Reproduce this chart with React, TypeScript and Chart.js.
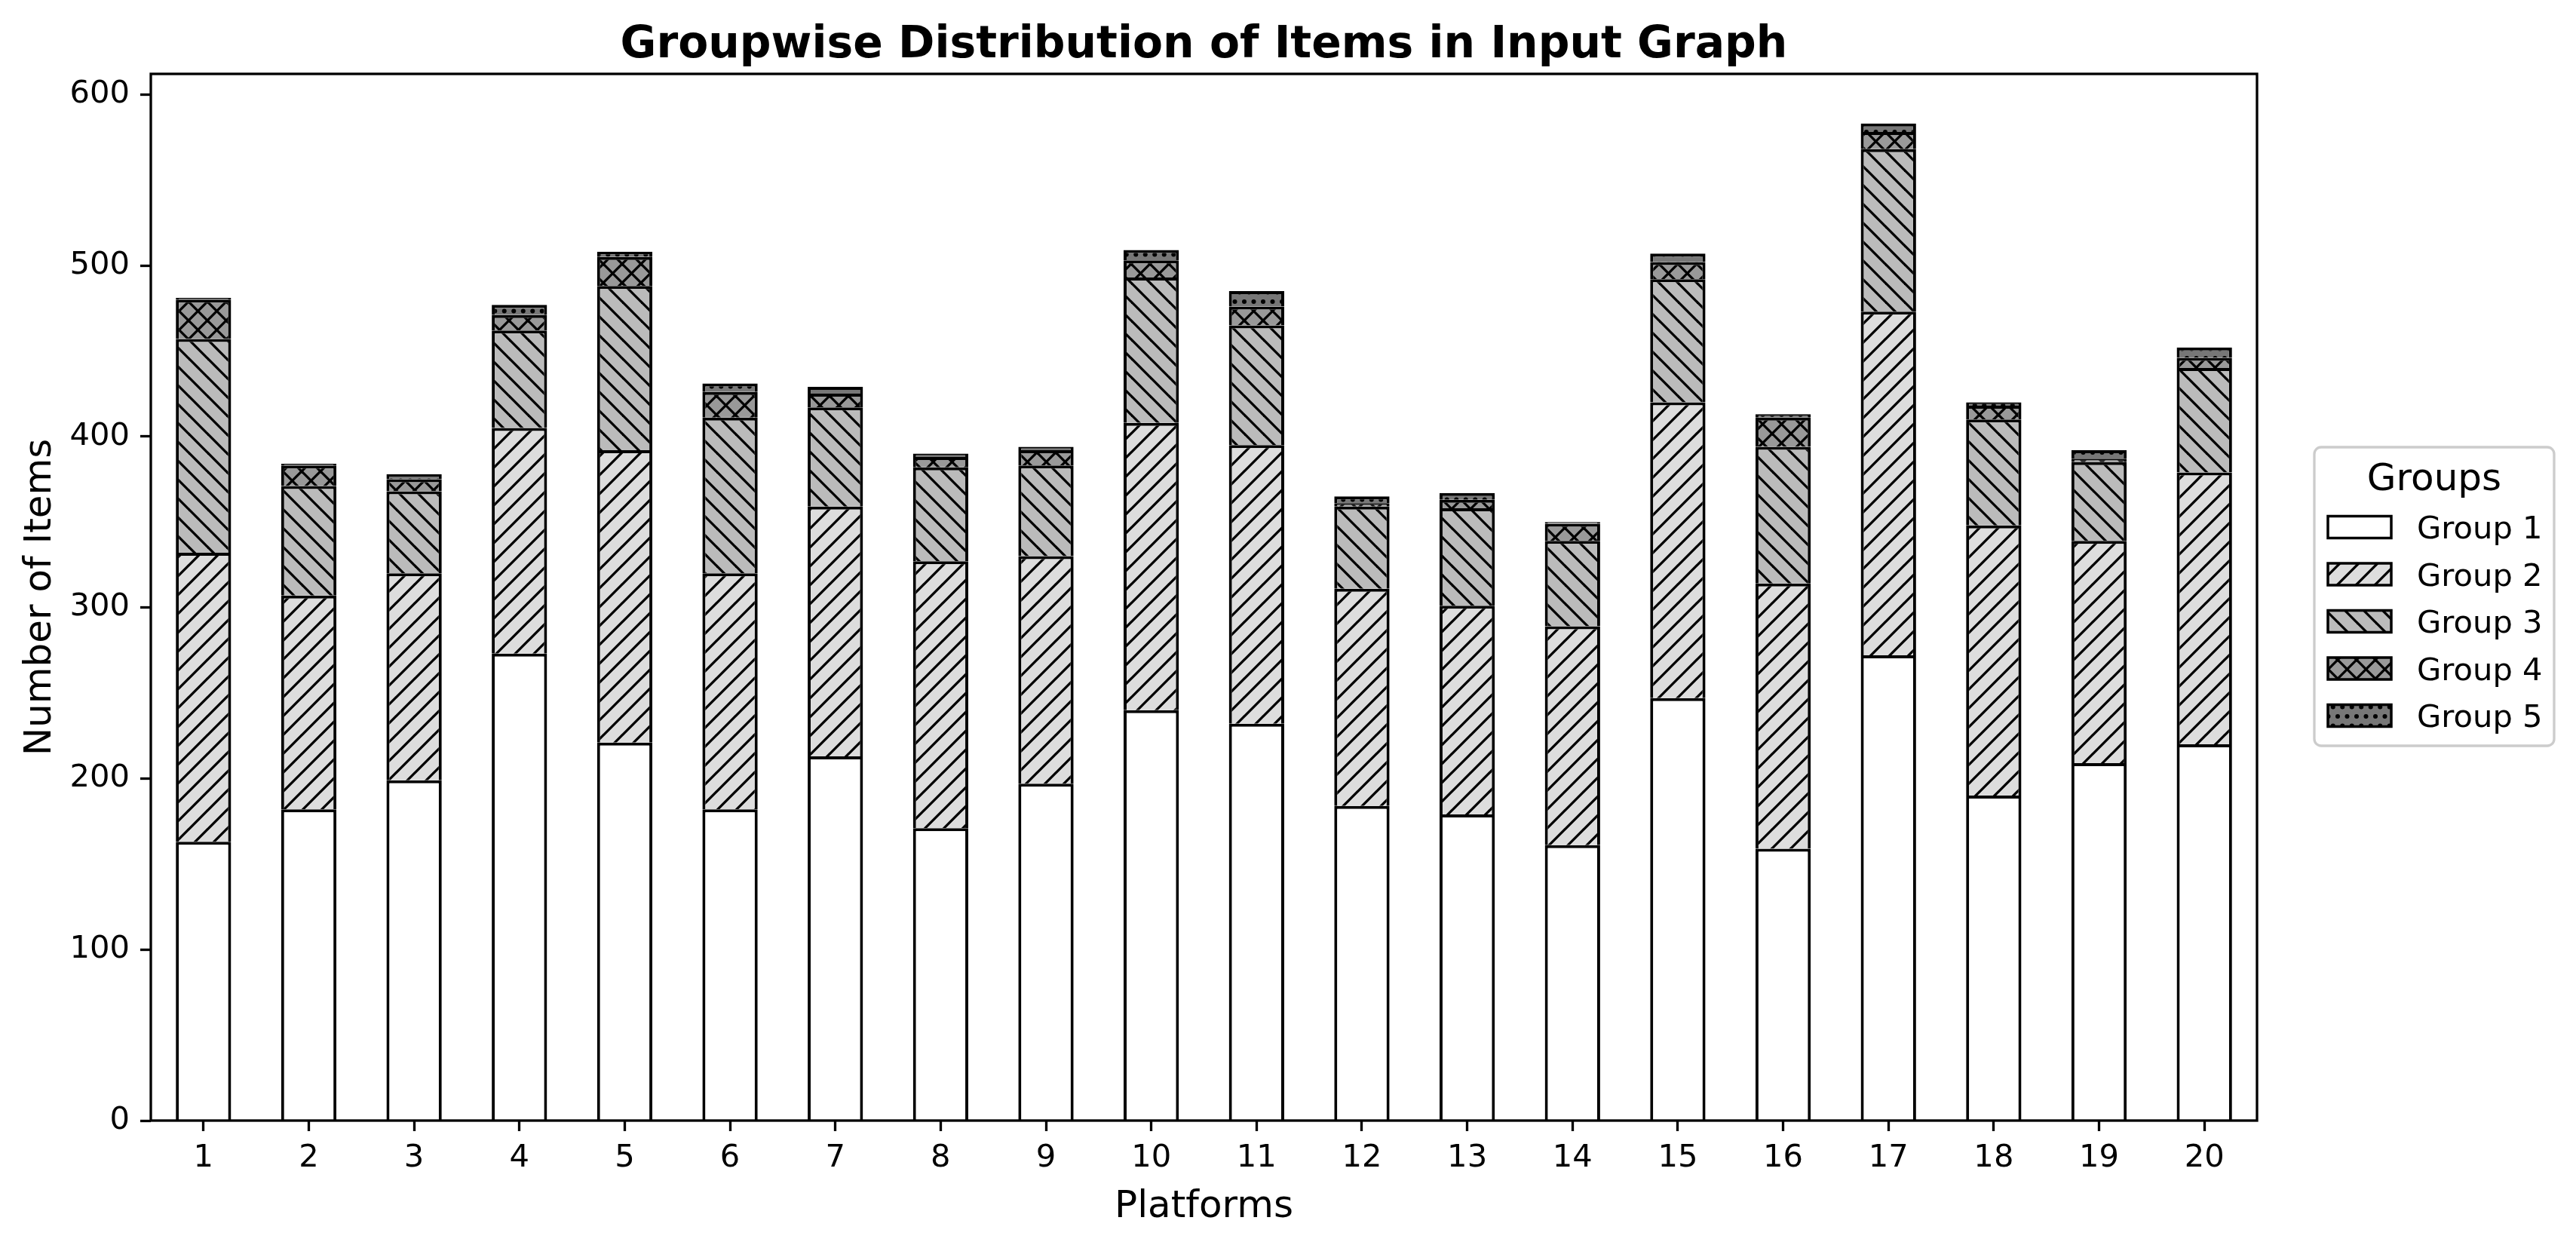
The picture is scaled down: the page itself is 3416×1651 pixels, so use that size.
import React, { useEffect, useRef } from 'react';
import { Chart, registerables } from 'chart.js';

Chart.register(...registerables);

// ---------- data ----------
const platforms = ['1', '2', '3', '4', '5', '6', '7', '8', '9', '10', '11', '12', '13', '14', '15', '16', '17', '18', '19', '20'];
const group1 = [163, 182, 199, 273, 221, 182, 213, 171, 197, 240, 232, 184, 179, 161, 247, 159, 272, 190, 209, 220];
const group2 = [169, 125, 121, 132, 171, 138, 146, 156, 133, 168, 163, 127, 122, 128, 173, 155, 201, 158, 130, 159];
const group3 = [125, 64, 48, 57, 96, 91, 58, 55, 53, 85, 70, 48, 57, 50, 72, 80, 95, 62, 46, 61];
const group4 = [23, 12, 7, 9, 17, 15, 8, 6, 9, 10, 11, 2, 5, 10, 10, 17, 10, 8, 2, 6];
const group5 = [1, 1, 3, 6, 3, 5, 4, 2, 2, 6, 9, 4, 4, 1, 5, 2, 5, 2, 5, 6];
const groupNames = ['Group 1', 'Group 2', 'Group 3', 'Group 4', 'Group 5'];
const groupFills = ['#ffffff', '#dddddd', '#bbbbbb', '#999999', '#777777'];
const groupHatches = ['', '//', '\\\\', 'xx', '..'];
const yTickValues = [0, 100, 200, 300, 400, 500, 600];
const yMax = 612;
const chartTitle = 'Groupwise Distribution of Items in Input Graph';
const xTitle = 'Platforms';
const yTitle = 'Number of Items';
const legendTitle = 'Groups';

const FONT = "'DejaVu Sans', 'Noto Sans', sans-serif";
const W = 3416;
const H = 1651;

function makePattern(fill: string, hatch: string): any {
  if (!hatch) return fill;
  const s = 25;
  const c = document.createElement('canvas');
  c.width = s;
  c.height = s;
  const g = c.getContext('2d')!;
  g.fillStyle = fill;
  g.fillRect(0, 0, s, s);
  g.strokeStyle = '#000';
  g.fillStyle = '#000';
  g.lineWidth = 3.3;
  g.lineCap = 'square';
  const ne = () => {
    for (const k of [-1, 0, 1]) {
      g.beginPath();
      g.moveTo(k * s, s);
      g.lineTo(k * s + s, 0);
      g.stroke();
    }
  };
  const nw = () => {
    for (const k of [-1, 0, 1]) {
      g.beginPath();
      g.moveTo(k * s, 0);
      g.lineTo(k * s + s, s);
      g.stroke();
    }
  };
  if (hatch === '//') ne();
  else if (hatch === '\\\\') nw();
  else if (hatch === 'xx') {
    ne();
    nw();
  } else if (hatch === '..') {
    const pts: [number, number][] = [];
    for (const y of [0, 25]) for (const x of [0, 12.5, 25]) pts.push([x, y]);
    for (const x of [6.25, 18.75]) pts.push([x, 12.5]);
    for (const [x, y] of pts) {
      g.beginPath();
      g.arc(x, y, 3, 0, Math.PI * 2);
      g.fill();
    }
  }
  return g.createPattern(c, 'repeat');
}

export default function App() {
  const ref = useRef<HTMLCanvasElement | null>(null);

  useEffect(() => {
    document.body.style.margin = '0';
    const canvas = ref.current!;
    const patterns = groupFills.map((f, i) => makePattern(f, groupHatches[i]));
    const series = [group1, group2, group3, group4, group5];

    const framePlugin = {
      id: 'frame',
      afterDatasetsDraw(chart: any) {
        const { ctx, chartArea: a } = chart;
        ctx.save();
        ctx.strokeStyle = '#000';
        ctx.lineWidth = 3.3;
        ctx.strokeRect(a.left, a.top, a.right - a.left, a.bottom - a.top);
        ctx.restore();
      },
    };

    const legendPlugin = {
      id: 'customLegend',
      afterDraw(chart: any) {
        const ctx = chart.ctx as CanvasRenderingContext2D;
        ctx.save();
        const bx = 3069, by = 593, bw = 318, bh = 396, r = 9;
        ctx.beginPath();
        ctx.moveTo(bx + r, by);
        ctx.lineTo(bx + bw - r, by);
        ctx.arcTo(bx + bw, by, bx + bw, by + r, r);
        ctx.lineTo(bx + bw, by + bh - r);
        ctx.arcTo(bx + bw, by + bh, bx + bw - r, by + bh, r);
        ctx.lineTo(bx + r, by + bh);
        ctx.arcTo(bx, by + bh, bx, by + bh - r, r);
        ctx.lineTo(bx, by + r);
        ctx.arcTo(bx, by, bx + r, by, r);
        ctx.closePath();
        ctx.fillStyle = 'rgba(255,255,255,0.8)';
        ctx.fill();
        ctx.strokeStyle = '#cccccc';
        ctx.lineWidth = 3.3;
        ctx.stroke();
        ctx.fillStyle = '#000';
        ctx.font = `50px ${FONT}`;
        ctx.textAlign = 'center';
        ctx.textBaseline = 'alphabetic';
        ctx.fillText(legendTitle, 3228, 650);
        ctx.font = `41.67px ${FONT}`;
        ctx.textAlign = 'left';
        const centers = [699, 761.5, 824, 886.5, 949];
        groupNames.forEach((name, i) => {
          const cy = centers[i];
          const hx = 3087, hw = 84, hh = 29;
          ctx.fillStyle = patterns[i];
          ctx.fillRect(hx, cy - hh / 2, hw, hh);
          ctx.strokeStyle = '#000';
          ctx.lineWidth = 3.5;
          ctx.strokeRect(hx, cy - hh / 2, hw, hh);
          ctx.fillStyle = '#000';
          ctx.fillText(name, 3205, cy + 15);
        });
        ctx.restore();
      },
    };

    const chart = new Chart(canvas, {
      type: 'bar',
      data: {
        labels: platforms,
        datasets: series.map((d, i) => ({
          label: groupNames[i],
          data: d,
          backgroundColor: patterns[i],
          borderColor: '#000000',
          borderWidth: { top: 4, right: 4, bottom: 0, left: 4 },
          borderSkipped: false,
          barPercentage: 0.525,
          categoryPercentage: 1.0,
          stack: 'all',
        })),
      },
      options: {
        responsive: false,
        maintainAspectRatio: false,
        animation: false,
        devicePixelRatio: 1,
        events: [],
        layout: { padding: { left: 0, right: 423, top: 0, bottom: 0 } },
        plugins: {
          legend: { display: false },
          tooltip: { enabled: false },
          title: {
            display: true,
            text: chartTitle,
            fullSize: false,
            color: '#000',
            font: { family: FONT, size: 58.33, weight: 'bold' },
            padding: { top: 26, bottom: 2 },
          },
        },
        scales: {
          x: {
            type: 'category',
            stacked: true,
            offset: true,
            grid: {
              offset: false,
              drawOnChartArea: false,
              drawTicks: true,
              tickLength: 14,
              tickWidth: 3.3,
              tickColor: '#000',
            },
            border: { display: false },
            ticks: {
              color: '#000',
              font: { family: FONT, size: 41.67 },
              padding: 11,
              maxRotation: 0,
              autoSkip: false,
            },
            title: {
              display: true,
              text: xTitle,
              color: '#000',
              font: { family: FONT, size: 50 },
              padding: { top: 0, bottom: 20 },
            },
            afterFit: (s: any) => {
              s.height = 165;
            },
          },
          y: {
            type: 'linear',
            stacked: true,
            min: 0,
            max: yMax,
            grid: {
              drawOnChartArea: false,
              drawTicks: true,
              tickLength: 14,
              tickWidth: 3.3,
              tickColor: '#000',
            },
            border: { display: false },
            ticks: {
              stepSize: 100,
              includeBounds: false,
              color: '#000',
              font: { family: FONT, size: 41.67 },
              padding: 14,
            },
            afterBuildTicks: (s: any) => {
              s.ticks = yTickValues.map((v) => ({ value: v }));
            },
            title: {
              display: true,
              text: yTitle,
              color: '#000',
              font: { family: FONT, size: 50 },
              padding: { top: 24, bottom: 0 },
            },
            afterFit: (s: any) => {
              s.width = 200;
            },
          },
        },
      } as any,
      plugins: [framePlugin, legendPlugin],
    });

    return () => {
      chart.destroy();
    };
  }, []);

  return (
    <div style={{ position: 'fixed', left: 0, top: 0, width: W, height: H, background: '#fff' }}>
      <canvas ref={ref} width={W} height={H} style={{ display: 'block', width: W, height: H }} />
    </div>
  );
}
